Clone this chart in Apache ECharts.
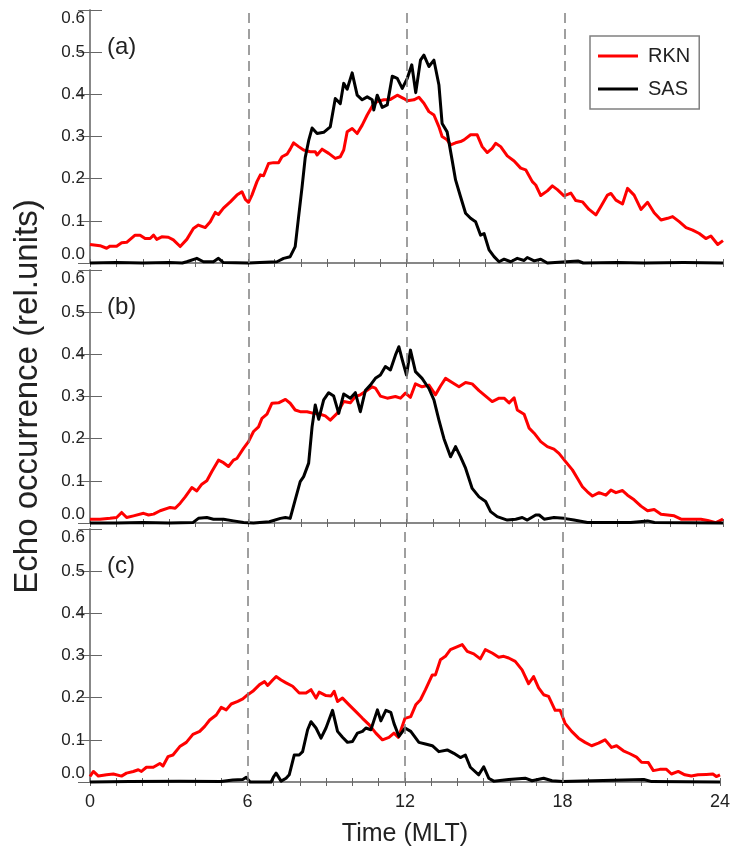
<!DOCTYPE html>
<html>
<head>
<meta charset="utf-8">
<script src="https://cdn.jsdelivr.net/npm/echarts@6/dist/echarts.min.js"></script>
<style>html,body{margin:0;padding:0;background:#fff;}#chart{width:733px;height:850px;}</style>
</head>
<body>
<div id="chart"></div>
<script>
// ---- data: [MLT hour, echo occurrence] ----
const panelLabels = ['(a)', '(b)', '(c)'];
const seriesNames = ['RKN', 'SAS'];
const xTickLabels = [0, 6, 12, 18, 24];
const dashHours = [6, 12, 18];

const rknA = [[0,0.044],[0.38,0.041],[0.63,0.035],[0.76,0.04],[1.01,0.04],[1.2,0.048],[1.39,0.049],[1.71,0.066],[1.9,0.066],[2.09,0.058],[2.28,0.058],[2.41,0.066],[2.53,0.056],[2.72,0.062],[2.97,0.061],[3.16,0.055],[3.42,0.039],[3.67,0.056],[3.92,0.082],[4.11,0.09],[4.37,0.084],[4.56,0.098],[4.75,0.12],[4.87,0.115],[5.06,0.13],[5.32,0.145],[5.57,0.161],[5.76,0.169],[5.89,0.151],[6.01,0.144],[6.14,0.161],[6.33,0.193],[6.46,0.209],[6.58,0.207],[6.77,0.236],[6.96,0.238],[7.15,0.238],[7.28,0.252],[7.47,0.258],[7.59,0.27],[7.72,0.285],[7.91,0.276],[8.1,0.268],[8.35,0.264],[8.54,0.264],[8.61,0.256],[8.8,0.27],[9.05,0.26],[9.3,0.248],[9.49,0.252],[9.62,0.268],[9.75,0.311],[9.94,0.319],[10.13,0.307],[10.32,0.327],[10.51,0.351],[10.7,0.372],[10.89,0.383],[11.14,0.387],[11.39,0.388],[11.65,0.398],[11.9,0.39],[12.03,0.385],[12.28,0.387],[12.47,0.393],[12.66,0.379],[12.85,0.359],[13.04,0.351],[13.23,0.323],[13.35,0.3],[13.54,0.292],[13.67,0.28],[13.86,0.285],[14.05,0.288],[14.18,0.292],[14.43,0.304],[14.68,0.304],[14.87,0.276],[15.06,0.262],[15.25,0.272],[15.38,0.284],[15.57,0.276],[15.82,0.254],[16.08,0.242],[16.33,0.225],[16.52,0.221],[16.77,0.193],[16.9,0.185],[17.09,0.16],[17.34,0.171],[17.53,0.183],[17.72,0.174],[17.97,0.159],[18.23,0.166],[18.42,0.148],[18.67,0.145],[18.92,0.127],[19.18,0.114],[19.37,0.134],[19.62,0.161],[19.75,0.165],[19.94,0.149],[20.19,0.14],[20.38,0.177],[20.63,0.161],[20.89,0.127],[21.14,0.144],[21.39,0.119],[21.65,0.102],[21.9,0.106],[22.09,0.11],[22.34,0.098],[22.6,0.084],[22.85,0.078],[23.1,0.07],[23.35,0.058],[23.54,0.064],[23.8,0.044],[24,0.053]];

const sasA = [[0,0],[1,0.001],[2,0],[3,0.001],[3.5,0],[3.67,0.003],[4.05,0.011],[4.3,0.003],[4.68,0.003],[4.87,0.011],[5.06,0.001],[6,0],[7.09,0.003],[7.34,0.011],[7.59,0.015],[7.78,0.039],[7.91,0.11],[8.04,0.18],[8.16,0.25],[8.29,0.29],[8.42,0.32],[8.61,0.307],[8.86,0.31],[9.11,0.323],[9.3,0.39],[9.49,0.378],[9.62,0.426],[9.75,0.412],[9.94,0.451],[10.13,0.398],[10.32,0.387],[10.51,0.394],[10.7,0.387],[10.76,0.363],[10.89,0.398],[11.08,0.369],[11.27,0.375],[11.46,0.443],[11.65,0.438],[11.84,0.414],[12.03,0.438],[12.2,0.47],[12.35,0.404],[12.53,0.481],[12.66,0.493],[12.85,0.466],[13.04,0.481],[13.23,0.422],[13.35,0.331],[13.54,0.311],[13.73,0.244],[13.86,0.197],[14.05,0.157],[14.24,0.118],[14.43,0.106],[14.62,0.098],[14.81,0.066],[14.94,0.07],[15.13,0.031],[15.32,0.015],[15.51,0.003],[15.7,0.009],[15.95,0.003],[16.2,0.011],[16.46,0.006],[16.58,0.013],[16.84,0.005],[17.09,0.009],[17.34,0],[18.5,0.005],[18.7,0],[20,0.001],[21,0],[22.5,0.001],[24,0]];

const rknB = [[0,0.009],[0.38,0.009],[0.76,0.011],[1.01,0.013],[1.2,0.025],[1.39,0.013],[1.65,0.017],[2.03,0.023],[2.22,0.019],[2.41,0.021],[2.66,0.029],[3.04,0.037],[3.23,0.035],[3.42,0.047],[3.61,0.062],[3.86,0.084],[4.05,0.076],[4.24,0.092],[4.43,0.1],[4.62,0.122],[4.87,0.149],[5.06,0.143],[5.25,0.134],[5.44,0.149],[5.57,0.153],[5.82,0.177],[6.01,0.193],[6.2,0.217],[6.39,0.228],[6.52,0.248],[6.71,0.258],[6.9,0.284],[7.15,0.285],[7.41,0.293],[7.59,0.284],[7.78,0.268],[7.97,0.264],[8.23,0.264],[8.48,0.26],[8.73,0.258],[8.92,0.254],[9.11,0.244],[9.37,0.26],[9.62,0.288],[9.87,0.285],[10.06,0.3],[10.25,0.304],[10.51,0.315],[10.7,0.323],[10.82,0.32],[11.01,0.301],[11.27,0.296],[11.58,0.3],[11.77,0.296],[11.96,0.308],[12.15,0.298],[12.34,0.33],[12.59,0.323],[12.85,0.327],[13.1,0.304],[13.29,0.325],[13.48,0.343],[13.73,0.333],[13.99,0.323],[14.24,0.333],[14.49,0.33],[14.75,0.314],[15.0,0.301],[15.25,0.288],[15.51,0.296],[15.7,0.296],[15.89,0.285],[16.08,0.297],[16.2,0.268],[16.46,0.258],[16.65,0.225],[16.84,0.213],[17.09,0.193],[17.34,0.181],[17.59,0.175],[17.78,0.165],[18.04,0.145],[18.29,0.126],[18.48,0.106],[18.67,0.086],[18.86,0.074],[19.05,0.064],[19.3,0.072],[19.56,0.066],[19.75,0.078],[19.94,0.072],[20.19,0.077],[20.38,0.066],[20.63,0.055],[20.89,0.04],[21.14,0.029],[21.39,0.032],[21.65,0.021],[21.9,0.019],[22.15,0.017],[22.41,0.009],[22.78,0.009],[23.16,0.009],[23.42,0.006],[23.73,0.001],[24,0.009]];

const sasB = [[0,0],[1,0],[2,0.001],[3,0],[3.9,0.001],[4.11,0.011],[4.43,0.013],[4.68,0.009],[5.06,0.009],[5.44,0.005],[5.82,0.001],[6.2,0],[6.8,0.003],[7.22,0.011],[7.41,0.013],[7.59,0.011],[7.78,0.055],[7.97,0.098],[8.1,0.11],[8.29,0.142],[8.42,0.228],[8.54,0.28],[8.67,0.246],[8.86,0.292],[9.05,0.309],[9.24,0.301],[9.43,0.26],[9.62,0.306],[9.87,0.296],[10.06,0.309],[10.25,0.264],[10.44,0.314],[10.63,0.327],[10.82,0.343],[11.01,0.351],[11.2,0.371],[11.39,0.363],[11.58,0.398],[11.71,0.418],[11.84,0.387],[12.0,0.351],[12.15,0.41],[12.34,0.359],[12.59,0.343],[12.85,0.319],[13.04,0.292],[13.23,0.244],[13.42,0.2],[13.67,0.157],[13.86,0.181],[14.05,0.157],[14.24,0.13],[14.49,0.082],[14.75,0.062],[15.0,0.051],[15.19,0.027],[15.44,0.015],[15.82,0.007],[16.14,0.009],[16.39,0.013],[16.58,0.007],[16.9,0.019],[17.03,0.019],[17.22,0.009],[17.59,0.013],[17.97,0.011],[18.35,0.007],[18.86,0.001],[20.5,0.001],[21.14,0.005],[21.4,0.001],[24,0]];

const rknC = [[0,0.013],[0.13,0.025],[0.32,0.014],[0.63,0.017],[0.89,0.019],[1.2,0.014],[1.39,0.021],[1.65,0.025],[1.84,0.029],[1.96,0.025],[2.15,0.035],[2.41,0.035],[2.66,0.044],[2.78,0.038],[2.97,0.06],[3.16,0.064],[3.42,0.084],[3.67,0.094],[3.92,0.113],[4.18,0.12],[4.37,0.132],[4.56,0.147],[4.81,0.159],[5.0,0.177],[5.19,0.171],[5.38,0.185],[5.63,0.191],[5.82,0.197],[6.01,0.207],[6.2,0.215],[6.46,0.231],[6.65,0.238],[6.77,0.229],[6.96,0.242],[7.09,0.25],[7.28,0.242],[7.47,0.235],[7.72,0.227],[7.97,0.211],[8.23,0.211],[8.42,0.219],[8.61,0.199],[8.73,0.213],[8.99,0.205],[9.18,0.204],[9.3,0.215],[9.43,0.191],[9.62,0.199],[9.87,0.183],[10.13,0.167],[10.38,0.151],[10.63,0.136],[10.89,0.116],[11.14,0.1],[11.39,0.106],[11.58,0.116],[11.75,0.106],[12.0,0.151],[12.22,0.155],[12.41,0.183],[12.59,0.195],[12.78,0.219],[13.04,0.254],[13.16,0.254],[13.35,0.29],[13.54,0.298],[13.73,0.314],[14.18,0.326],[14.37,0.31],[14.62,0.304],[14.87,0.292],[15.06,0.314],[15.32,0.306],[15.57,0.296],[15.76,0.298],[15.95,0.294],[16.2,0.286],[16.46,0.266],[16.71,0.233],[16.9,0.25],[17.09,0.223],[17.28,0.207],[17.47,0.203],[17.72,0.17],[17.91,0.17],[18.1,0.139],[18.35,0.12],[18.61,0.104],[18.86,0.094],[19.11,0.086],[19.37,0.092],[19.62,0.1],[19.87,0.082],[20.06,0.086],[20.32,0.074],[20.57,0.067],[20.82,0.059],[21.01,0.047],[21.27,0.046],[21.46,0.027],[21.71,0.03],[21.96,0.03],[22.15,0.019],[22.41,0.025],[22.66,0.017],[22.91,0.014],[23.16,0.017],[23.48,0.018],[23.73,0.019],[23.86,0.013],[24,0.017]];

const sasC = [[0,0],[1.5,0.001],[3.4,0.002],[5.0,0.001],[5.44,0.005],[5.82,0.006],[5.95,0.011],[6.1,0],[6.9,0],[7.0,0.013],[7.09,0.021],[7.28,0.002],[7.47,0.009],[7.59,0.017],[7.78,0.064],[7.97,0.064],[8.1,0.072],[8.29,0.124],[8.42,0.143],[8.61,0.128],[8.8,0.104],[8.99,0.128],[9.24,0.17],[9.43,0.12],[9.62,0.106],[9.81,0.094],[10.0,0.096],[10.19,0.116],[10.38,0.12],[10.51,0.128],[10.7,0.124],[10.95,0.171],[11.08,0.145],[11.27,0.17],[11.46,0.165],[11.58,0.139],[11.77,0.108],[12.0,0.128],[12.22,0.12],[12.53,0.094],[12.78,0.09],[13.04,0.086],[13.29,0.072],[13.61,0.076],[13.86,0.068],[14.11,0.058],[14.3,0.064],[14.49,0.035],[14.81,0.017],[15.0,0.036],[15.19,0.009],[15.38,0.002],[15.95,0.006],[16.58,0.009],[16.84,0.003],[17.28,0.009],[17.6,0.003],[18,0.001],[21.1,0.006],[21.4,0.001],[24,0]];

const panelData = [[rknA, sasA], [rknB, sasB], [rknC, sasC]];
const lineColors = ['#ff0000', '#000000'];

// ---- layout ----
const FONT = "'Liberation Sans', Arial, Helvetica, sans-serif";
const gridTops = [10, 270, 529];
const gridH = 253;
const AXIS_COLOR = '#808080';

const grids = gridTops.map(t => ({ left: 90, top: t, width: 633, height: gridH, show: false }));

const xAxes = [], yAxes = [], series = [], titles = [];
gridTops.forEach((t, g) => {
  const isLast = g === gridTops.length - 1;
  ['bottom', 'top'].forEach(pos => {
    xAxes.push({
      type: 'value', gridIndex: g, position: pos, min: 0, max: 24, interval: 1,
      axisLine: { show: true, lineStyle: { color: AXIS_COLOR, width: 1.5 } },
      axisTick: { show: true, inside: true, length: 4, lineStyle: { color: '#666', width: 1 } },
      splitLine: { show: false },
      axisLabel: {
        show: isLast && pos === 'bottom', margin: 11,
        fontFamily: FONT, fontSize: 18, color: '#222',
        formatter: v => (xTickLabels.indexOf(v) >= 0 ? String(v) : '')
      },
      name: (isLast && pos === 'bottom') ? 'Time (MLT)' : '',
      nameLocation: 'middle', nameGap: 40,
      nameTextStyle: { fontFamily: FONT, fontSize: 25, color: '#222' }
    });
  });
  ['left', 'right'].forEach(pos => {
    yAxes.push({
      type: 'value', gridIndex: g, position: pos, min: 0, max: 0.6, interval: 0.1,
      axisLine: { show: true, lineStyle: { color: AXIS_COLOR, width: 1.5 } },
      axisTick: { show: true, inside: true, length: 12, lineStyle: { color: '#666', width: 1 } },
      splitLine: { show: false },
      axisLabel: {
        show: pos === 'left', margin: 5,
        fontFamily: FONT, fontSize: 17, color: '#222',
        formatter: v => v.toFixed(1),
        verticalAlignMinLabel: 'bottom', verticalAlignMaxLabel: 'top'
      },
      name: (g === 1 && pos === 'left') ? 'Echo occurrence (rel.units)' : '',
      nameLocation: 'middle', nameGap: 46,
      nameTextStyle: { fontFamily: FONT, fontSize: 33, color: '#222' }
    });
  });

  // dashed reference lines
  series.push({
    type: 'line', xAxisIndex: 2 * g, yAxisIndex: 2 * g, data: [], z: 1,
    markLine: {
      silent: true, symbol: 'none', label: { show: false },
      lineStyle: { type: [10, 6], color: '#808080', width: 1.5 },
      data: dashHours.map(h => ({ xAxis: h }))
    }
  });
  panelData[g].forEach((d, k) => {
    series.push({
      name: seriesNames[k], type: 'line', xAxisIndex: 2 * g, yAxisIndex: 2 * g,
      data: d, symbol: 'none', showSymbol: false, clip: false, z: 3 + k,
      lineStyle: { color: lineColors[k], width: 3, join: 'round' },
      itemStyle: { color: lineColors[k] }
    });
  });

  titles.push({
    text: panelLabels[g], left: 107, top: t + 25,
    textStyle: { fontFamily: FONT, fontSize: 24, fontWeight: 'normal', color: '#222' }, padding: 0
  });
});

const chart = echarts.init(document.getElementById('chart'), null, { renderer: 'canvas' });
chart.setOption({
  animation: false,
  backgroundColor: '#fff',
  title: titles,
  grid: grids,
  xAxis: xAxes,
  yAxis: yAxes,
  legend: {
    data: seriesNames, orient: 'vertical', left: 590, top: 36,
    icon: 'rect', itemWidth: 40, itemHeight: 3,
    padding: [10, 9, 10, 8], itemGap: 13,
    borderColor: '#808080', borderWidth: 1.5, backgroundColor: '#fff',
    textStyle: { fontFamily: FONT, fontSize: 20, color: '#222', padding: [0, 0, 0, 5] }
  },
  series: series
});
</script>
</body>
</html>
